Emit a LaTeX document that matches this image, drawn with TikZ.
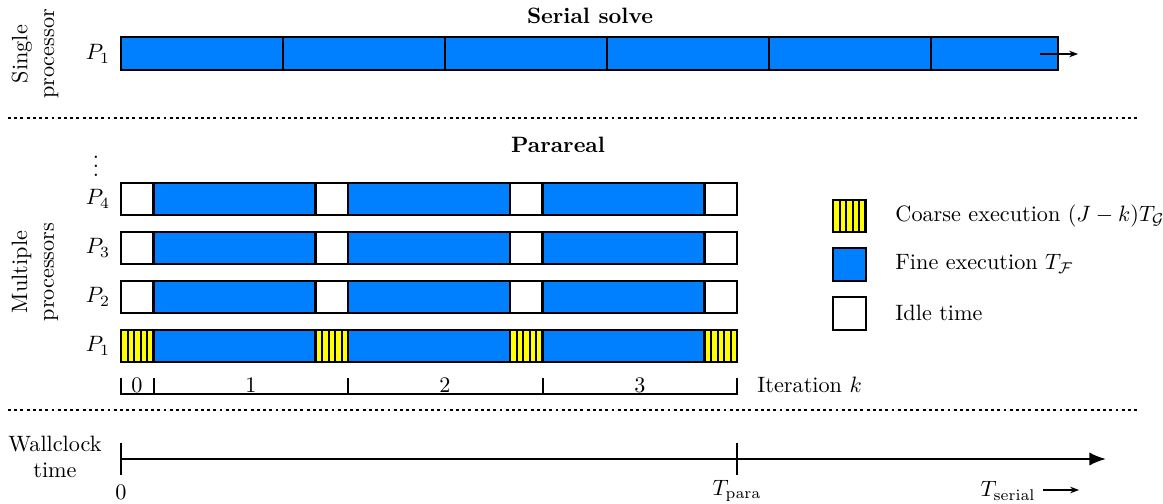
\documentclass[tikz,border=0pt]{standalone}
\usetikzlibrary{arrows.meta}
\definecolor{fineblue}{RGB}{0,128,255}
\definecolor{coarseyellow}{RGB}{255,255,0}
\tikzset{
  box/.style={draw=black,line width=1pt},
  fineblk/.style={box,fill=fineblue},
  idleblk/.style={box,fill=white},
  lbl/.style={inner sep=0pt},
  sepline/.style={line width=1.3pt,dash pattern=on 1.3pt off 1.5pt},
  axisline/.style={line width=1pt},
  thinaxis/.style={line width=0.7pt},
}
\newcommand\coarsebox[2]{%
  \fill[coarseyellow] (#1,#2) rectangle ++(32.5,32);
  \foreach \i in {1,...,4}{\draw[line width=0.9pt] ({#1+\i*6.5},#2) -- ++(0,32);}
  \draw[box] (#1,#2) rectangle ++(32.5,32);
}
\begin{document}
\begin{tikzpicture}[x=0.45pt,y=-0.45pt]
\useasboundingbox (0,0) rectangle (1163,504);

% ---- Serial solve ----
\node[lbl] (tserial) at (590,16) {\textbf{Serial solve}};
\node[lbl,rotate=90,align=center] (single) at (35,54) {Single\\processor};
\node[lbl] (ps1) at (98,54) {$P_1$};
\draw[fineblk] (121,37) rectangle (1058,70);
\foreach \x in {283,445,607,769,931}{\draw[box] (\x,37) -- (\x,70);}
\coordinate (sa) at (1040,54);
\coordinate (sb) at (1078,54);
\draw[line width=0.5pt,-{Stealth[length=4pt,width=3pt]}] (sa) -- (sb);

\draw[sepline] (8,118) -- (1138,118);

% ---- Parareal ----
\node[lbl] (tpara) at (558,145) {\textbf{Parareal}};
\node[lbl] (vd) at (96,160) {$\vdots$};
\node[lbl,rotate=90,align=center] (multi) at (35,272) {Multiple\\processors};

\foreach \n/\y in {4/183,3/232,2/281,1/330}{
  \node[lbl] (p\n) at (98,\y+16) {$P_{\n}$};
  \foreach \x in {153.5,348,542.5}{\draw[fineblk] (\x,\y) rectangle ++(162,32);}
}
\foreach \y in {183,232,281}{
  \foreach \x in {121,315.5,510,704.5}{\draw[idleblk] (\x,\y) rectangle ++(32.5,32);}
}
\foreach \x in {121,315.5,510,704.5}{\coarsebox{\x}{330}}

% iteration axis
\draw[thinaxis] (121,378) -- (121,394) -- (737,394) -- (737,378);
\foreach \x in {154,348,543}{\draw[thinaxis] (\x,378) -- (\x,394);}
\node[lbl] (k0) at (137,385) {0};
\node[lbl] (k1) at (251,385) {1};
\node[lbl] (k2) at (445,385) {2};
\node[lbl] (k3) at (640,385) {3};
\node[lbl,anchor=west] (iter) at (757,385) {Iteration $k$};

% legend
\coarsebox{833}{200}
\draw[fineblk] (833,248) rectangle ++(33,33);
\draw[idleblk] (833,297) rectangle ++(33,33);
\node[lbl,anchor=west] (lc) at (895,216) {Coarse execution $(J-k)T_{\mathcal{G}}$};
\node[lbl,anchor=west] (lf) at (895,264) {Fine execution $T_{\mathcal{F}}$};
\node[lbl,anchor=west] (li) at (895,313) {Idle time};

\draw[sepline] (8,410) -- (1138,410);

% ---- Wallclock ----
\node[lbl,align=center] (wall) at (55,457) {Wallclock\\time};
\coordinate (w0) at (121,459);
\coordinate (wend) at (1106,459);
\draw[axisline,-{Latex[length=7.5pt,width=6pt]}] (w0) -- (wend);
\draw[axisline] (121,443) -- (121,475);
\draw[axisline] (737,443) -- (737,475);
\node[lbl] (z0) at (121,492) {0};
\node[lbl] (tp) at (737,491) {$T_{\mathrm{para}}$};
\node[lbl,anchor=east] (ts) at (1036,491) {$T_{\mathrm{serial}}$};
\coordinate (ta) at (1043,490);
\coordinate (tb) at (1079,490);
\draw[line width=0.5pt,-{Stealth[length=4pt,width=3pt]}] (ta) -- (tb);
\end{tikzpicture}
\end{document}
